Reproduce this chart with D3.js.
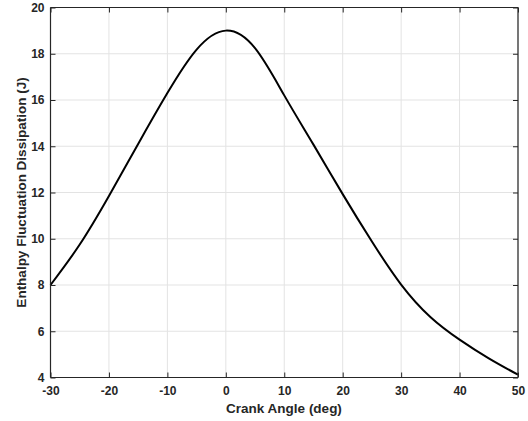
<!DOCTYPE html>
<html>
<head>
<meta charset="utf-8">
<script src="https://cdn.jsdelivr.net/npm/d3@7"></script>
<style>
  body { margin: 0; background: #fff; }
  svg { display: block; }
  text { font-family: "Liberation Sans", Arial, sans-serif; font-weight: bold; fill: #262626; }
</style>
</head>
<body>
<svg id="chart" width="528" height="421"></svg>
<script>
// Data
const crankAngle = [-30, -25, -20, -15, -10, -5, 0, 5, 10, 15, 20, 25, 30, 35, 40, 45, 50];
const dissipation = [8.0, 9.75, 11.85, 14.1, 16.3, 18.18, 19.0, 18.24, 16.2, 14.07, 11.93, 9.88, 8.02, 6.62, 5.64, 4.83, 4.12];
const xTicks = [-30, -20, -10, 0, 10, 20, 30, 40, 50];
const yTicks = [4, 6, 8, 10, 12, 14, 16, 18, 20];
const xLabel = "Crank Angle (deg)";
const yLabel = "Enthalpy Fluctuation Dissipation (J)";

const svg = d3.select("#chart");
const m = { left: 50.5, top: 7.5, right: 518, bottom: 377.5 };
const x = d3.scaleLinear().domain([-30, 50]).range([m.left, m.right]);
const y = d3.scaleLinear().domain([4, 20]).range([m.bottom, m.top]);

// grid
svg.append("g").selectAll("line").data(xTicks).join("line")
  .attr("x1", d => x(d)).attr("x2", d => x(d))
  .attr("y1", m.top).attr("y2", m.bottom)
  .attr("stroke", "#e3e3e3").attr("stroke-width", 1);
svg.append("g").selectAll("line").data(yTicks).join("line")
  .attr("y1", d => y(d)).attr("y2", d => y(d))
  .attr("x1", m.left).attr("x2", m.right)
  .attr("stroke", "#e3e3e3").attr("stroke-width", 1);

// curve
const line = d3.line().x((d, i) => x(crankAngle[i])).y(d => y(d)).curve(d3.curveNatural);
svg.append("path").datum(dissipation)
  .attr("d", line).attr("fill", "none")
  .attr("stroke", "#000").attr("stroke-width", 2);

// axes
const tickLen = 5;
const fmt = d => String(d);
const xAxisB = d3.axisBottom(x).tickValues(xTicks).tickSize(-tickLen).tickPadding(9).tickFormat(fmt);
const xAxisT = d3.axisTop(x).tickValues(xTicks).tickSize(-tickLen).tickFormat("");
const yAxisL = d3.axisLeft(y).tickValues(yTicks).tickSize(-tickLen).tickPadding(6).tickFormat(fmt);
const yAxisR = d3.axisRight(y).tickValues(yTicks).tickSize(-tickLen).tickFormat("");

function style(g) {
  g.select(".domain").attr("stroke", "#262626").attr("stroke-width", 1.2);
  g.selectAll(".tick line").attr("stroke", "#262626").attr("stroke-width", 1);
  g.selectAll(".tick text").attr("font-size", "12px").attr("fill", "#262626")
    .attr("font-family", "Liberation Sans, Arial, sans-serif").attr("font-weight", "bold");
}
svg.append("g").attr("transform", `translate(0,${m.bottom})`).call(xAxisB).call(style)
  .call(g => g.select(".domain").attr("d", `M${m.left},0H${m.right}`));
svg.append("g").attr("transform", `translate(0,${m.top})`).call(xAxisT).call(style)
  .call(g => g.select(".domain").attr("d", `M${m.left},0H${m.right}`));
svg.append("g").attr("transform", `translate(${m.left},0)`).call(yAxisL).call(style)
  .call(g => g.select(".domain").attr("d", `M0,${m.top}V${m.bottom}`));
svg.append("g").attr("transform", `translate(${m.right},0)`).call(yAxisR).call(style)
  .call(g => g.select(".domain").attr("d", `M0,${m.top}V${m.bottom}`));

// labels
svg.append("text").attr("x", 284).attr("y", 413)
  .attr("text-anchor", "middle").attr("font-size", "13.5px").text(xLabel);
svg.append("text").attr("transform", `translate(26,192.5) rotate(-90)`)
  .attr("text-anchor", "middle").attr("font-size", "13.5px").text(yLabel);
</script>
</body>
</html>
